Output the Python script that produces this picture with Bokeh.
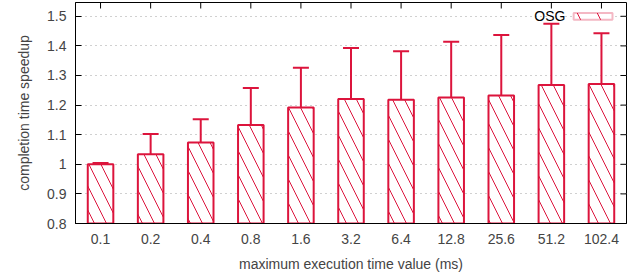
import math
from bokeh.plotting import figure
from bokeh.models import (FactorRange, Range1d, FixedTicker, Whisker, TeeHead,
                          ColumnDataSource, BoxAnnotation, Label)
from bokeh.embed import file_html
from bokeh.resources import INLINE

categories = ["0.1", "0.2", "0.4", "0.8", "1.6", "3.2", "6.4", "12.8", "25.6", "51.2", "102.4"]
speedup = [1.000, 1.034, 1.074, 1.133, 1.192, 1.221, 1.218, 1.226, 1.232, 1.268, 1.271]
err_low = [0.998, 1.009, 1.003, 1.051, 1.051, 1.057, 1.004, 1.003, 1.007, 1.005, 1.009]
err_high = [1.004, 1.102, 1.152, 1.258, 1.326, 1.393, 1.382, 1.414, 1.437, 1.475, 1.443]
y_ticks = [0.8, 0.9, 1.0, 1.1, 1.2, 1.3, 1.4, 1.5]
y_tick_labels = ["0.8", "0.9", "1", "1.1", "1.2", "1.3", "1.4", "1.5"]
series_name = "OSG"

RED = "#dc143c"
FONT = "Liberation Sans"
FS = "14px"
Y0, Y1 = 0.8, 1.5466

p = figure(width=641, height=278, output_backend="svg", toolbar_location=None,
           x_range=FactorRange(*categories, range_padding=0),
           y_range=Range1d(Y0, Y1),
           min_border_left=75, min_border_right=15, min_border_top=2, min_border_bottom=55)
p.outline_line_color = "black"
p.outline_line_width = 1

src = ColumnDataSource(dict(x=categories, top=speedup, lo=err_low, hi=err_high))

p.vbar(x="x", top="top", bottom=Y0, width=0.51, source=src,
       fill_color="white", line_color=RED, line_width=2,
       hatch_pattern="left_diagonal_line", hatch_color=RED, hatch_scale=24, hatch_weight=1)

w = Whisker(base="x", lower="lo", upper="hi", source=src, dimension="height",
            line_color=RED, line_width=2,
            upper_head=TeeHead(size=16, line_color=RED, line_width=2),
            lower_head=TeeHead(size=16, line_color=RED, line_width=2))
p.add_layout(w)

# mirrored ticks on top and right edges (gnuplot style)
p.ray(x=categories, y=[Y1] * len(categories), length=6, length_units="screen",
      angle=-math.pi / 2, line_color="black", line_width=1)
p.ray(x=[len(categories)] * len(y_ticks), y=y_ticks, length=6, length_units="screen",
      angle=math.pi, line_color="black", line_width=1)

# grid
p.xgrid.visible = False
p.ygrid.ticker = FixedTicker(ticks=y_ticks)
p.ygrid.grid_line_color = "#a0a0a0"
p.ygrid.grid_line_dash = "1 4"
p.ygrid.grid_line_width = 1

# left axis
ya = p.yaxis[0]
ya.ticker = FixedTicker(ticks=y_ticks)
ya.major_label_overrides = {t: l for t, l in zip(y_ticks, y_tick_labels)}
ya.minor_tick_line_color = None
ya.major_tick_in = 6
ya.major_tick_out = 0
ya.major_label_standoff = 9
ya.axis_label = "completion time speedup"
ya.axis_label_standoff = 12
ya.axis_label_text_font = FONT
ya.axis_label_text_font_size = FS
ya.axis_label_text_font_style = "normal"
ya.major_label_text_font = FONT
ya.major_label_text_font_size = FS
ya.axis_line_color = "black"

# bottom axis
xa = p.xaxis[0]
xa.major_tick_in = 0
xa.major_tick_out = 0
xa.major_label_standoff = 10
xa.axis_label = "maximum execution time value (ms)"
xa.axis_label_standoff = 9
xa.axis_label_text_font = FONT
xa.axis_label_text_font_size = FS
xa.axis_label_text_font_style = "normal"
xa.major_label_text_font = FONT
xa.major_label_text_font_size = FS

# legend (manual, label left of swatch)
p.add_layout(BoxAnnotation(left=9.945, right=10.72, bottom=1.4885, top=1.5115,
                           fill_color="white", fill_alpha=1, line_color=RED, line_width=2,
                           hatch_pattern="left_diagonal_line", hatch_color=RED,
                           hatch_scale=40, hatch_weight=1))
p.add_layout(Label(x=9.78, y=1.5, text=series_name, text_align="right", text_baseline="middle",
                   text_font=FONT, text_font_size=FS, text_color="black"))

open("out.html", "w").write(file_html(p, INLINE))
